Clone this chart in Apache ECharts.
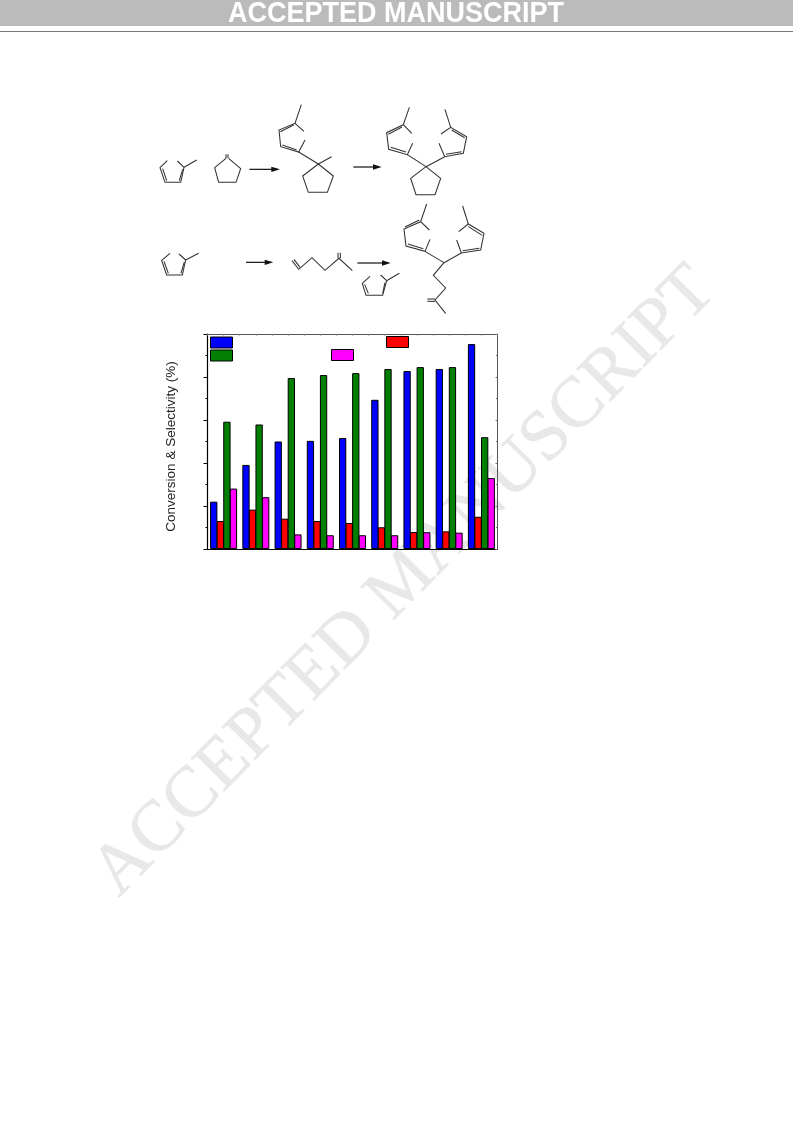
<!DOCTYPE html>
<html><head><meta charset="utf-8">
<style>html,body{margin:0;padding:0;background:#fff}#c{width:793px;height:1121px}</style>
<script src="https://cdn.jsdelivr.net/npm/echarts@6/dist/echarts.min.js"></script>
</head><body><div id="c"></div>
<script>
const categories = ['1','2','3','4','5','6','7','8','9'];
const seriesA = [22.0, 39.1, 50.0, 50.3, 51.6, 69.4, 82.8, 83.7, 95.3];
const seriesB = [13.0, 18.3, 14.1, 13.0, 12.1, 10.1, 7.9, 8.2, 15.0];
const seriesC = [59.2, 57.9, 79.5, 80.9, 81.8, 83.7, 84.6, 84.6, 52.0];
const seriesD = [28.1, 24.1, 6.8, 6.4, 6.4, 6.4, 7.8, 7.6, 33.0];
const yTitle = 'Conversion & Selectivity (%)';

// Reaction-scheme line art (not data), in units of a 3x drawing grid
const schemeLines = [
 [[82,212],[60,233],[75,277],[122,277],[132,232],[112,213]],[[68,236],[80,272]],[[118,272],[128,238]],[[132,232],[170,210]],
 [[258,205],[224,233],[236,277],[288,277],[302,236],[266,205]],[[258,193],[258,205]],[[264,193],[264,205]],
 [[484,44],[465,100]],[[492,124],[465,100],[417,120],[422,170],[476,186],[495,150]],[[421,125],[462,104]],[[427,165],[470,180]],
 [[476,186],[535,222]],[[535,222],[575,200]],[[535,222],[488,258],[505,307],[562,307],[580,258],[535,222]],
 [[808,52],[790,104]],[[815,130],[790,104],[740,128],[746,178],[802,194],[818,160]],[[745,133],[786,111]],[[752,172],[798,186]],
 [[802,194],[858,230]],[[915,58],[932,112]],[[903,132],[932,112],[980,140],[970,190],[914,200],[897,160]],[[935,120],[974,143]],[[918,193],[965,185]],
 [[914,200],[858,230]],[[858,230],[812,265],[828,314],[885,314],[902,265],[858,230]],
 [[90,490],[65,511],[80,555],[127,555],[137,510],[117,492]],[[72,514],[85,550]],[[123,550],[133,516]],[[137,510],[176,490]],
 [[456,512],[476,538],[516,503],[555,541],[597,505],[637,542]],[[462,508],[480,532]],[[594,488],[594,505]],[[601,488],[601,505]],
 [[690,559],[667,580],[678,616],[728,616],[740,572],[722,555]],[[674,583],[685,610]],[[728,610],[735,578]],[[740,572],[778,550]],
 [[860,342],[842,395]],[[868,420],[842,395],[792,417],[798,468],[855,484],[870,448]],[[795,411],[838,390]],[[804,462],[850,476]],
 [[855,484],[912,518]],[[968,348],[985,402]],[[956,425],[985,402],[1032,430],[1022,480],[964,489],[950,450]],[[985,410],[1027,436]],[[968,482],[1018,475]],
 [[964,489],[912,518]],[[912,518],[880,556],[917,594],[885,630],[917,670]],[[862,627],[885,627]],[[862,634],[885,634]]
];
const schemeArrows = [[328,420,238],[640,725,231],[318,400,517],[652,752,519]];

const graphicEls = [
 {type:'text',rotation:45.3*Math.PI/180,x:131,y:910,silent:true,
  style:{text:'ACCEPTED MANUSCRIPT',font:'71.8px "Liberation Serif"',fill:'#e8e8e8',stroke:'#ececec',lineWidth:0.7,textAlign:'left',verticalAlign:'bottom'}},
 {type:'rect',shape:{x:0,y:0,width:793,height:26},style:{fill:'#bbbbbb'}},
 {type:'rect',shape:{x:0,y:31,width:793,height:1},style:{fill:'#7a7a7a'}},
 {type:'text',x:396,y:14,scaleY:1.08,originY:0,style:{text:'ACCEPTED MANUSCRIPT',font:'bold 27px "Liberation Sans"',fill:'#ffffff',align:'center',verticalAlign:'middle'}},
 {type:'group',x:140,y:90,scaleX:1/3,scaleY:1/3,children:[
  ...schemeLines.map(p=>({type:'polyline',shape:{points:p},style:{stroke:'#333',lineWidth:3.2,fill:null}})),
  ...schemeArrows.flatMap(a=>[
   {type:'line',shape:{x1:a[0],y1:a[2],x2:a[1]-10,y2:a[2]},style:{stroke:'#111',lineWidth:3.6}},
   {type:'polygon',shape:{points:[[a[1],a[2]],[a[1]-26,a[2]-8],[a[1]-26,a[2]+8]]},style:{fill:'#111'}}
  ])
 ]}
];

function bar(name,data,color){
 return {name,type:'bar',data,barWidth:7.3,barGap:'-10%',xAxisIndex:0,yAxisIndex:0,z:3,
  itemStyle:{color,borderColor:'#000',borderWidth:1}};
}
function leg(name,left,top,w,h){
 return {data:[{name,icon:'rect'}],left,top,itemWidth:w,itemHeight:h,padding:0,itemGap:0,formatter:()=>'',selectedMode:false,
  textStyle:{fontSize:1,padding:0},itemStyle:{borderColor:'#000',borderWidth:1}};
}
const chart = echarts.init(document.getElementById('c'),null,{renderer:'canvas'});
chart.setOption({
 animation:false,
 backgroundColor:'#fff',
 grid:{left:207.5,top:334,width:290,height:215,containLabel:false},
 legend:[leg('Conversion',210,336.5,22,11),leg('Selectivity A',210,349.5,22,11),leg('Selectivity B',386,336,22,11),leg('Selectivity C',331,349,22,11)],
 xAxis:[
  {type:'category',data:categories,position:'bottom',axisLine:{onZero:false,lineStyle:{color:'#000',width:1.2}},
   axisTick:{length:4,alignWithLabel:true,lineStyle:{color:'#000'},inside:false},axisLabel:{show:false},splitLine:{show:false}},
  {type:'value',position:'top',min:0,max:18,interval:1,axisLine:{show:true,onZero:false,lineStyle:{color:'#555',width:1}},
   axisTick:{show:true,inside:true,length:1.5,lineStyle:{color:'#777'}},axisLabel:{show:false},splitLine:{show:false}}
 ],
 yAxis:[
  {type:'value',min:0,max:100,interval:20,position:'left',
   name:yTitle,nameLocation:'middle',nameGap:29,nameRotate:90,
   nameTextStyle:{fontFamily:'Liberation Sans',fontSize:13.5,color:'#222',padding:[0,10,0,0]},
   axisLine:{show:true,onZero:false,lineStyle:{color:'#000',width:1.2}},
   axisTick:{show:true,length:4,lineStyle:{color:'#000'}},
   minorTick:{show:true,splitNumber:2,length:2,lineStyle:{color:'#000'}},
   axisLabel:{show:false},splitLine:{show:false},minorSplitLine:{show:false}},
  {type:'value',min:0,max:100,interval:20,position:'right',
   axisLine:{show:true,onZero:false,lineStyle:{color:'#555',width:1}},
   axisTick:{show:true,inside:true,length:2,lineStyle:{color:'#777'}},
   minorTick:{show:true,splitNumber:2,length:1.5,lineStyle:{color:'#777'}},
   axisLabel:{show:false},splitLine:{show:false},minorSplitLine:{show:false}}
 ],
 graphic:{elements:graphicEls},
 series:[
  bar('Conversion',seriesA,'#0000ff'),
  bar('Selectivity B',seriesB,'#ff0000'),
  bar('Selectivity A',seriesC,'#007f00'),
  bar('Selectivity C',seriesD,'#ff00ff')
 ]
});
</script></body></html>
